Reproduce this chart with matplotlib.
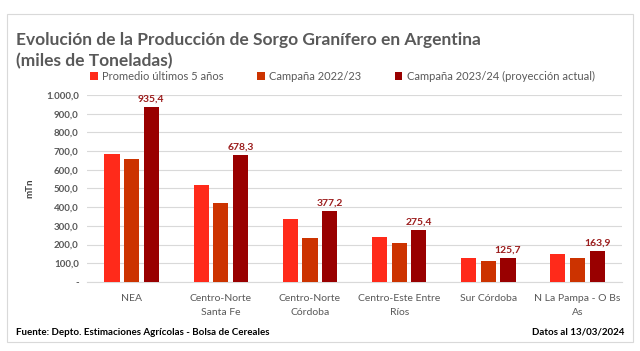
import numpy as np
import matplotlib
matplotlib.use("Agg")
import matplotlib.pyplot as plt
from matplotlib.patches import Rectangle

plt.rcParams['font.family'] = ['Lato', 'DejaVu Sans']

regiones = ["NEA", "Centro-Norte\nSanta Fe", "Centro-Norte\nCórdoba",
            "Centro-Este Entre\nRíos", "Sur Córdoba", "N La Pampa - O Bs\nAs"]
promedio_5 = [684, 517, 337, 242, 128, 151]
campana_2223 = [656, 424, 237, 206, 112, 128]
campana_2324 = [935.4, 678.3, 377.2, 275.4, 125.7, 163.9]
series_nombres = ["Promedio últimos 5 años", "Campaña 2022/23",
                  "Campaña 2023/24 (proyección actual)"]
colores = ["#FF2A1A", "#CC3300", "#990000"]
y_ticks = [0, 100, 200, 300, 400, 500, 600, 700, 800, 900, 1000]


def fmt_es(v):
    if v == 0:
        return "-"
    s = "{:,.1f}".format(v)
    return s.replace(",", "X").replace(".", ",").replace("X", ".")


fig = plt.figure(figsize=(6.4, 3.51), dpi=100)
fig.patches.append(Rectangle((0.011, 0.025), 0.978, 0.935, transform=fig.transFigure,
                             fill=False, edgecolor="#D9D9D9", linewidth=0.8))

ax = fig.add_axes([0.136, 0.197, 0.836, 0.532])
x = np.arange(len(regiones))
ancho = 0.17
paso = 0.22
for i, (vals, col, nom) in enumerate(zip([promedio_5, campana_2223, campana_2324],
                                         colores, series_nombres)):
    ax.bar(x + (i - 1) * paso, vals, width=ancho, color=col, label=nom, zorder=3)

for xi, v in zip(x, campana_2324):
    ax.text(xi + paso, v + 18, fmt_es(v), ha="center", va="bottom",
            fontsize=7.5, fontweight="bold", color="#9B1C1C")

ax.set_ylim(0, 1000)
ax.set_xlim(-0.5, len(regiones) - 0.5)
ax.set_yticks(y_ticks)
ax.set_yticklabels([fmt_es(v) for v in y_ticks], fontsize=7, fontweight="bold",
                   color="#595959")
ax.set_xticks(x)
ax.set_xticklabels(regiones, fontsize=7.5, color="#595959", linespacing=1.7)
ax.tick_params(axis="both", length=0, pad=6)
ax.tick_params(axis="x", pad=9)
ax.grid(axis="y", color="#D9D9D9", linewidth=0.8, zorder=0)
for s in ["top", "right", "left"]:
    ax.spines[s].set_visible(False)
ax.spines["bottom"].set_color("#D9D9D9")
ax.set_ylabel("mTn", fontsize=7, fontweight="bold", color="#404040", labelpad=8)

fig.text(0.025, 0.885, "Evolución de la Producción de Sorgo Granífero en Argentina",
         fontsize=12.5, fontweight="bold", color="#595959", va="center")
fig.text(0.025, 0.825, "(miles de Toneladas)",
         fontsize=12.5, fontweight="bold", color="#595959", va="center")

fig.legend(loc="center", bbox_to_anchor=(0.535, 0.783), ncol=3, frameon=False,
           fontsize=8, handlelength=0.7, handleheight=0.7, handletextpad=0.4,
           columnspacing=3.0, labelcolor="#595959")

fig.text(0.025, 0.053, "Fuente: Depto. Estimaciones Agrícolas - Bolsa de Cereales",
         fontsize=7, fontweight="bold", color="black", va="center")
fig.text(0.976, 0.053, "Datos al 13/03/2024", fontsize=7, fontweight="bold",
         color="black", va="center", ha="right")

fig.savefig("out.png", dpi=100)
